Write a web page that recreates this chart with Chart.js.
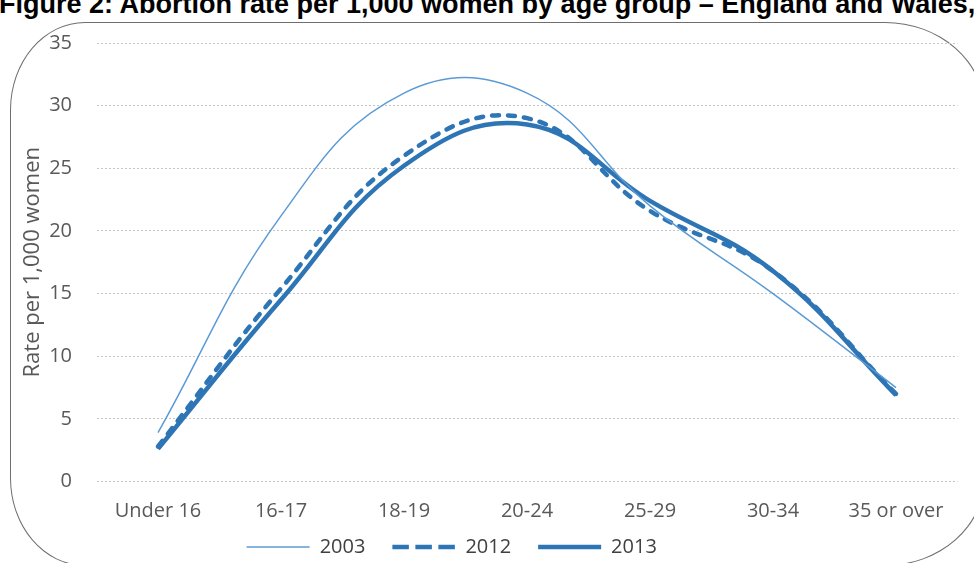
<!DOCTYPE html>
<html>
<head>
<meta charset="utf-8">
<script src="https://cdn.jsdelivr.net/npm/chart.js@4/dist/chart.umd.min.js"></script>
<style>
  html, body { margin: 0; padding: 0; background: #ffffff; overflow: hidden; }
  #wrap { position: relative; width: 974px; height: 563px; overflow: hidden; background: #fff; }
  #title {
    position: absolute; left: -1px; top: -9px; white-space: nowrap;
    font-family: "Liberation Sans", Arial, sans-serif; font-weight: bold;
    font-size: 27px; line-height: 27px; color: #000;
  }
  #frame {
    position: absolute; left: 10px; top: 22px; width: 975px; height: 544px;
    border: 1.5px solid #6f6f6f; box-sizing: border-box;
    border-top-left-radius: 75px 88px;
    border-bottom-left-radius: 75px 88px;
    border-top-right-radius: 100px 88px;
    border-bottom-right-radius: 100px 88px;
  }
  #chart { position: absolute; left: 0; top: 0; }
</style>
</head>
<body>
<div id="wrap">
  <div id="title">Figure 2: Abortion rate per 1,000 women by age group – England and Wales, 2013</div>
  <div id="frame"></div>
  <canvas id="chart" width="974" height="563"></canvas>
</div>
<script>
// Age groups along the x axis
const ageGroups = ['Under 16', '16-17', '18-19', '20-24', '25-29', '30-34', '35 or over'];
// Abortion rate per 1,000 women in each age group
const rates2003 = [3.9, 21.2, 31.0, 31.0, 22.0, 15.0, 7.5];
const rates2012 = [2.8, 15.4, 26.0, 29.0, 21.6, 16.8, 7.0];
const rates2013 = [2.6, 14.5, 25.2, 28.5, 22.4, 16.8, 6.9];
const yTicks = [0, 5, 10, 15, 20, 25, 30, 35];

const textFont = '"Open Sans", sans-serif';
const tickFont = { family: textFont, size: 20 };
const blueLight = '#5b9bd5';
const blueDark = '#2e75b6';

// Nudges the legend row left and up from where the layout puts it
const legendShift = {
  id: 'legendShift',
  afterLayout(chart) {
    const lg = chart.legend;
    if (lg) {
      lg.left -= 27; lg.right -= 27;
      lg.top -= 9.5; lg.bottom -= 9.5;
    }
  }
};

const chart = new Chart(document.getElementById('chart'), {
  type: 'line',
  data: {
    labels: ageGroups,
    datasets: [
      { label: '2003', data: rates2003, borderColor: blueLight, borderWidth: 1.5,
        legendWidth: 1.5, legendDash: [] },
      { label: '2012', data: rates2012, borderColor: blueDark, borderWidth: 4.5,
        borderDash: [7, 9], borderCapStyle: 'round', legendWidth: 4.5, legendDash: [16.5, 6.5] },
      { label: '2013', data: rates2013, borderColor: blueDark, borderWidth: 4.5,
        legendWidth: 4.5, legendDash: [] }
    ]
  },
  plugins: [legendShift],
  options: {
    responsive: false,
    animation: false,
    events: [],
    elements: {
      line: { tension: 0.42, fill: false },
      point: { radius: 0 }
    },
    layout: { padding: { left: 0, right: 16.5, top: 43, bottom: 0 } },
    scales: {
      x: {
        offset: true,
        grid: { display: false, drawTicks: false },
        border: { display: false },
        ticks: { color: '#595959', font: tickFont, padding: 18, maxRotation: 0, autoSkip: false },
        afterFit: (s) => { s.height = 38; }
      },
      y: {
        min: 0, max: 35,
        afterBuildTicks: (s) => { s.ticks = yTicks.map(v => ({ value: v })); },
        grid: { color: '#c4c4c4', lineWidth: 1, drawTicks: false },
        border: { display: false, dash: [2, 2] },
        ticks: { color: '#595959', font: tickFont, padding: 24.5 },
        title: {
          display: true, text: 'Rate per 1,000 women', color: '#595959',
          font: { family: textFont, size: 22 },
          padding: { top: 20, bottom: 0 }
        },
        afterFit: (s) => { s.width = 96.5; }
      }
    },
    plugins: {
      title: { display: false },
      tooltip: { enabled: false },
      legend: {
        position: 'bottom',
        maxHeight: 43.5,
        labels: {
          color: '#404040',
          font: { family: textFont, size: 20 },
          usePointStyle: true,
          pointStyle: 'line',
          pointStyleWidth: 63,
          boxWidth: 63,
          boxHeight: 1,
          padding: 27,
          generateLabels: (c) => c.data.datasets.map((d, i) => ({
            text: d.label,
            fontColor: '#404040',
            strokeStyle: d.borderColor,
            fillStyle: d.borderColor,
            lineWidth: d.legendWidth,
            lineDash: d.legendDash,
            lineCap: 'butt',
            pointStyle: 'line',
            hidden: false,
            datasetIndex: i
          }))
        }
      }
    }
  }
});
</script>
</body>
</html>
